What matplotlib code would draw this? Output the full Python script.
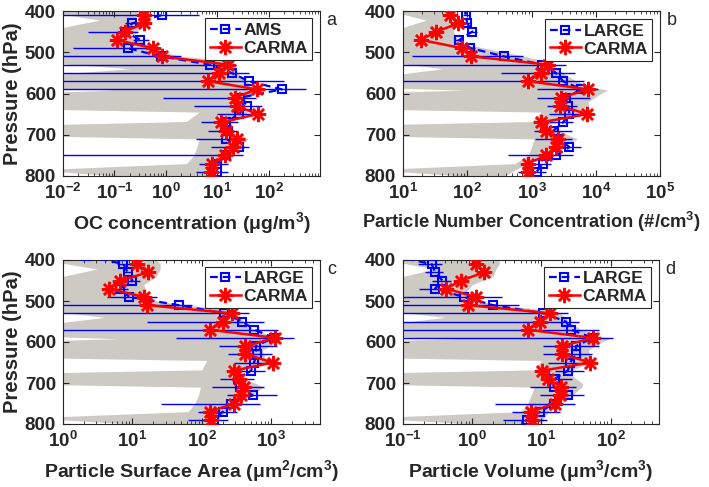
import numpy as np
import matplotlib
matplotlib.use('Agg')
import matplotlib.pyplot as plt
from matplotlib.ticker import LogLocator, NullFormatter, FixedLocator, LogFormatterSciNotation

plt.rcParams['font.family'] = ['Liberation Sans', 'DejaVu Sans']
plt.rcParams['font.weight'] = 'bold'
plt.rcParams['axes.labelweight'] = 'bold'
plt.rcParams['mathtext.default'] = 'regular'

TXT = '#262626'
GREY = '#CDC9C3'
BLUE = '#0000FF'
RED = '#FF0000'

# ---------------- data ----------------
p_model = [410, 430, 450, 470, 490, 510, 530, 550, 570, 590,
           610, 630, 650, 670, 690, 710, 730, 750, 770, 790]
p_ams = p_model
p_large = [390] + p_model

# model range (grey shading) pressure grid
shade_p = [400, 408, 422, 440, 460, 480, 500, 510, 520, 528, 540, 552, 570, 585, 592,
           598, 620, 638, 645, 668, 676, 690, 703, 710, 730, 750, 770, 785, 800]

# ---- panel a: OC concentration ----
ams_oc = [0.83, 0.22, 0.16, 0.32, 0.18, 0.8, 7.2, 19, 41, 182,
          28, 38, 26, 15, 16, 15, 26, 15, 9.8, 10]
ams_oc_lo = [0, 0.16, 0.031, 0.23, 0.016, 0, 0, 0, 0, 0,
             0.87, 3.6, 10, 4.9, 6.6, 3.9, 7.6, 0, 4.5, 3.9]
ams_oc_hi = [4.5, 0.30, 0.29, 0.48, 0.42, 2.0, 23, 42, 200, 525,
             56, 76, 62, 25, 25, 34, 42, 32, 16, 16]
carma_oc = [0.37, 0.37, 0.16, 0.11, 0.56, 0.83, 16, 10.7, 6.6, 59,
            22, 24, 61, 12, 15, 24, 20, 14.4, 8.1, 7.6]
shade_oc_lo = [0.0032, 0.01, 0.051, 0.01, 0.0032, 0.0032, 0.0032, 0.0032, 0.0032, 0.01,
               0.2, 0.01, 0.0032, 0.0032, 0.1, 0.0032, 0.0032, 0.0032, 4.5, 2.5,
               0.0032, 0.0032, 0.0032, 4.5, 4.0, 3.5, 2.5, 0.0032, 0.1]
shade_oc_hi = [0.35, 0.32, 0.23, 0.32, 0.23, 0.42, 1.0, 1.9, 20, 22,
               23, 25, 35, 63, 89, 71, 20, 28, 40, 20,
               16, 20, 32, 40, 27, 15, 11, 10, 9]

# ---- panel b: number concentration ----
large_n = [95, 95, 100, 120, 75, 112, 375, 1450, 2400, 3100, 6000,
           3400, 3700, 3900, 3100, 2200, 2600, 3900, 2400, 1500, 1200]
large_n_lo = [85, 85, 88, 100, 65, 95, 14, 0, 340, 0, 1200,
              1200, 1750, 1900, 1900, 1100, 1150, 2000, 430, 690, 620]
large_n_hi = [105, 110, 115, 140, 85, 130, 740, 3500, 4700, 6600, 10700,
              8000, 5100, 8000, 4400, 4200, 4200, 5900, 4400, 2000, 1700]
carma_n = [53, 73, 33, 19, 82, 115, 1800, 1400, 870, 7600,
           2900, 2800, 7400, 1400, 1700, 2600, 2400, 1700, 870, 870]
shade_n_lo = [3.2, 10, 23, 10, 3.2, 3.2, 3.2, 3.2, 3.2, 10,
              42, 10, 3.2, 3.2, 91, 3.2, 3.2, 3.2, 1400, 1000,
              3.2, 3.2, 3.2, 1100, 1000, 890, 550, 3.2, 91]
shade_n_hi = [56, 63, 71, 60, 63, 91, 380, 800, 1400, 1600,
              2500, 3200, 5000, 8900, 15500, 12600, 7600, 7900, 8900, 2000,
              2000, 2800, 4000, 5200, 2900, 1400, 870, 560, 380]

# ---- panel c: surface area ----
large_s = [2.2, 7.4, 8.5, 10, 6.6, 9, 46, 210, 380, 570, 1080,
           590, 620, 560, 510, 330, 350, 540, 260, 200, 148]
large_s_lo = [1.5, 5.9, 7.2, 7.0, 4.8, 4.3, 0, 0, 16, 0, 42,
              174, 240, 285, 300, 183, 140, 230, 26, 89, 64]
large_s_hi = [3.0, 9.2, 10, 12.8, 8.7, 22.4, 72, 470, 780, 1260, 2090,
              1200, 1020, 1070, 815, 560, 780, 1200, 690, 320, 240]
carma_s = [11.5, 17, 6.6, 4.6, 14.7, 16, 270, 200, 129, 1140,
           420, 420, 1050, 285, 340, 400, 365, 285, 132, 135]
shade_s_lo = [0.32, 1, 3.1, 1, 0.32, 0.32, 0.32, 0.32, 0.32, 1,
              4.0, 1, 0.32, 0.32, 6.3, 0.32, 0.32, 0.32, 117, 100,
              0.32, 0.32, 0.32, 95, 89, 79, 63, 0.32, 10]
shade_s_hi = [22, 25, 25, 22, 14.5, 16, 22, 60, 250, 320,
              355, 400, 560, 1000, 1500, 1260, 740, 800, 1000, 400,
              280, 400, 630, 780, 500, 320, 220, 180, 140]

# ---- panel d: volume ----
large_v = [0.074, 0.26, 0.29, 0.37, 0.29, 0.75, 2.0, 10.7, 22.5, 27, 55,
           31.6, 31.6, 26, 24, 15.5, 15, 24, 15, 9.6, 6.1]
large_v_lo = [0.06, 0.165, 0.21, 0.26, 0.17, 0, 0, 0, 0, 0, 0,
              10.7, 10.7, 12.6, 15.8, 10, 6.9, 9.6, 2.1, 3.7, 2.8]
large_v_hi = [0.09, 0.36, 0.38, 0.50, 0.50, 2.7, 4.7, 24.5, 35, 68, 110,
              68, 53, 48, 41, 27.5, 32, 41, 31, 18.6, 12]
carma_v = [1.12, 1.5, 0.69, 0.42, 1.12, 0.86, 13.5, 9.6, 6.3, 55,
           20, 20, 51, 10.2, 12.3, 19.5, 18.6, 15.5, 7.1, 7.2]
shade_v_lo = [0.032, 0.1, 0.29, 0.1, 0.032, 0.032, 0.032, 0.032, 0.032, 0.1,
              0.4, 0.1, 0.032, 0.032, 0.63, 0.032, 0.032, 0.032, 10, 7.9,
              0.032, 0.032, 0.032, 7.9, 7.1, 6.3, 5.0, 0.032, 1.0]
shade_v_hi = [2.4, 2.5, 2.2, 2.0, 1.0, 0.8, 1.26, 2.5, 10, 18,
              22, 25, 38, 71, 93, 79, 48, 50, 63, 28,
              25, 32, 40, 38, 28, 20, 12.6, 11, 10]

y_ticks = [400, 500, 600, 700, 800]

# ---------------- figure ----------------
fig = plt.figure(figsize=(7.09, 4.87), dpi=100)

W, H = 709.0, 487.0
def px_axes(left, top, right, bottom):
    return fig.add_axes([left / W, 1 - bottom / H, (right - left) / W, (bottom - top) / H])

ax_a = px_axes(63, 11, 320, 176)
ax_b = px_axes(403, 11, 660, 176)
ax_c = px_axes(63, 260, 320, 424)
ax_d = px_axes(403, 260, 659, 424)


def panel(ax, xlim, xticks, s_lo, s_hi, op, obs, o_lo, o_hi, oname, carma,
          xlabel, tag, ylabel, leg_anchor, xlabel_size=14):
    ax.set_xscale('log')
    ax.fill_betweenx(shade_p, s_lo, s_hi, color=GREY, lw=0, zorder=1)
    obs = np.asarray(obs, float)
    lo = np.asarray(o_lo, float)
    lo = np.where(lo > 0, lo, xlim[0] * 1e-3)
    hi = np.asarray(o_hi, float)
    ax.errorbar(obs, op, xerr=[obs - lo, hi - obs], fmt='none', ecolor=BLUE,
                elinewidth=1.0, capsize=0, zorder=2)
    ax.plot(obs, op, linestyle=(0, (3.5, 2.2)), color=BLUE, marker='s', mfc='none',
            mec=BLUE, ms=6, mew=1.5, lw=1.6, label=oname, zorder=3)
    ax.plot(carma, p_model, '-', color=RED, marker=(8, 2, 0), ms=11, mew=1.8,
            lw=1.8, label='CARMA', zorder=4)
    ax.set_xlim(*xlim)
    ax.set_ylim(800, 400)
    ax.xaxis.set_major_locator(FixedLocator(xticks))
    ax.xaxis.set_major_formatter(LogFormatterSciNotation())
    ax.xaxis.set_minor_locator(LogLocator(base=10, subs=np.arange(2, 10), numticks=50))
    ax.xaxis.set_minor_formatter(NullFormatter())
    ax.set_yticks(y_ticks)
    ax.tick_params(which='both', direction='in', top=True, right=True, color=TXT,
                   labelcolor=TXT, labelsize=13.5)
    ax.tick_params(which='major', length=4, width=0.8)
    ax.tick_params(which='minor', length=2.2, width=0.6)
    ax.tick_params(axis='x', pad=5)
    ax.tick_params(axis='y', pad=5)
    for lab in ax.get_xticklabels() + ax.get_yticklabels():
        lab.set_fontweight('bold')
    for sp in ax.spines.values():
        sp.set_color(TXT)
        sp.set_linewidth(0.8)
    ax.set_xlabel(xlabel, fontsize=xlabel_size, color=TXT, labelpad=5)
    if ylabel:
        ax.set_ylabel('Pressure (hPa)', fontsize=14.5, color=TXT, labelpad=2)
    leg = ax.legend(loc='upper right', bbox_to_anchor=leg_anchor, fontsize=12.5,
                    frameon=True, fancybox=False, framealpha=1, edgecolor=TXT,
                    borderaxespad=0, handlelength=1.8, handletextpad=0.15,
                    borderpad=0.25, labelspacing=0.15)
    leg.get_frame().set_linewidth(0.8)
    for t in leg.get_texts():
        t.set_color(TXT)
    ax.text(1.045, 0.94, tag, transform=ax.transAxes, ha='center', va='center',
            fontsize=13, fontweight='normal', color=TXT)


panel(ax_a, (1e-2, 1e3), [1e-2, 1e-1, 1e0, 1e1, 1e2], shade_oc_lo, shade_oc_hi,
      p_ams, ams_oc, ams_oc_lo, ams_oc_hi, 'AMS', carma_oc,
      'OC concentration (μg/m$^{3}$)', 'a', True, (0.97, 0.955))
panel(ax_b, (1e1, 1e5), [1e1, 1e2, 1e3, 1e4, 1e5], shade_n_lo, shade_n_hi,
      p_large, large_n, large_n_lo, large_n_hi, 'LARGE', carma_n,
      'Particle Number Concentration (#/cm$^{3}$)', 'b', False, (0.97, 0.95),
      xlabel_size=13.2)
panel(ax_c, (1e0, 5e3), [1e0, 1e1, 1e2, 1e3], shade_s_lo, shade_s_hi,
      p_large, large_s, large_s_lo, large_s_hi, 'LARGE', carma_s,
      'Particle Surface Area (μm$^{2}$/cm$^{3}$)', 'c', True, (0.97, 0.96))
panel(ax_d, (1e-1, 5e2), [1e-1, 1e0, 1e1, 1e2], shade_v_lo, shade_v_hi,
      p_large, large_v, large_v_lo, large_v_hi, 'LARGE', carma_v,
      'Particle Volume (μm$^{3}$/cm$^{3}$)', 'd', False, (0.97, 0.96))

fig.savefig('out.png', dpi=100)
